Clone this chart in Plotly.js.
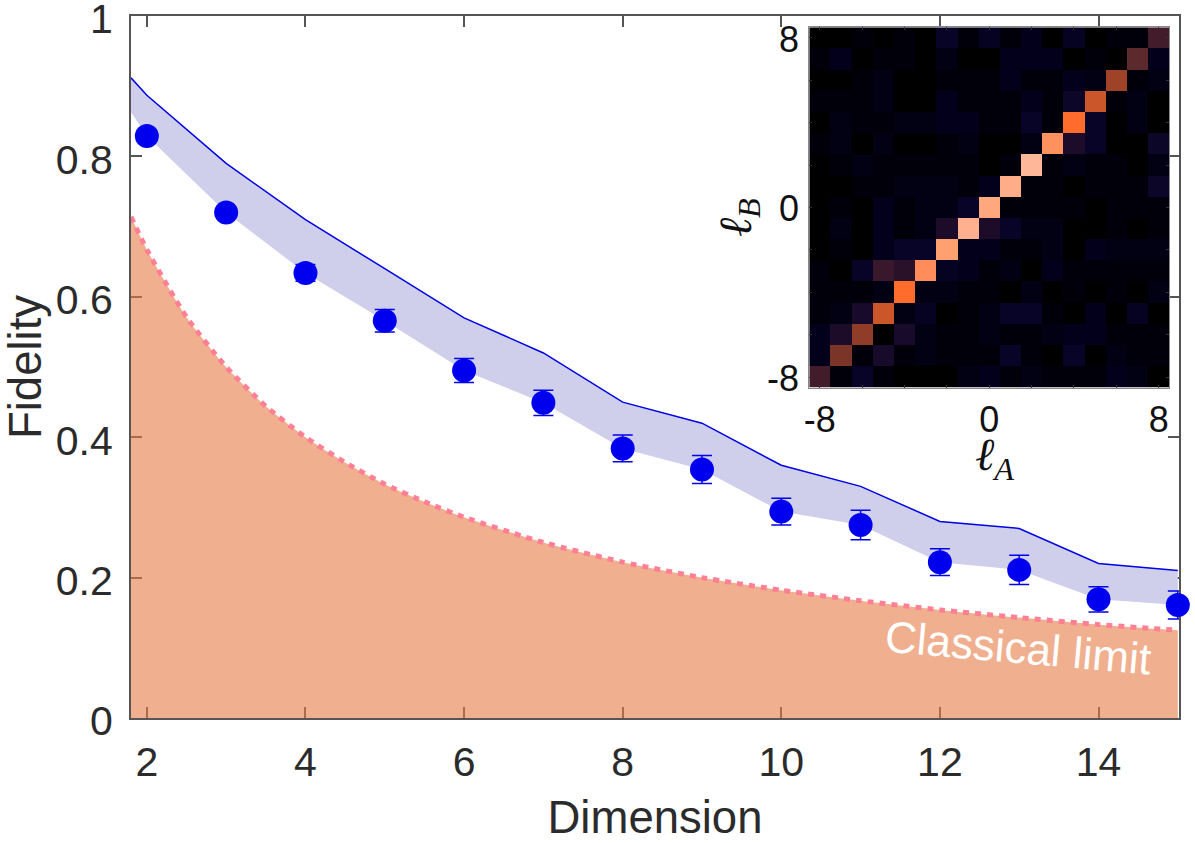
<!DOCTYPE html>
<html>
<head>
<meta charset="utf-8">
<script src="https://cdn.plot.ly/plotly-3.0.1.min.js"></script>
<style>html,body{margin:0;padding:0;background:#fff}</style>
</head>
<body>
<div id="chart" style="width:1195px;height:843px"></div>
<script>
"use strict";

const dimension = [2, 3, 4, 5, 6, 7, 8, 9, 10, 11, 12, 13, 14, 15];
const fidelity = [0.829, 0.72, 0.634, 0.566, 0.495, 0.449, 0.384, 0.354, 0.294, 0.275, 0.222, 0.211, 0.169, 0.161];
const fidelityErr = [0.004, 0.006, 0.012, 0.016, 0.017, 0.018, 0.019, 0.02, 0.019, 0.021, 0.019, 0.021, 0.018, 0.02];

const bandX = [1.8, 2, 3, 4, 5, 6, 7, 8, 9, 10, 11, 12, 13, 14, 15];
const bandUpper = [0.912, 0.887, 0.79, 0.71, 0.64, 0.57, 0.52, 0.45, 0.42, 0.36, 0.33, 0.28, 0.27, 0.22, 0.21];
const bandLower = [0.863, 0.829, 0.72, 0.634, 0.566, 0.495, 0.449, 0.384, 0.354, 0.294, 0.275, 0.222, 0.211, 0.169, 0.161];

const limitX = [1.8, 2, 2.5, 3, 3.5, 4, 4.5, 5, 5.5, 6, 7, 8, 9, 10, 11, 12, 13, 14, 15];
const limitY = [0.714, 0.667, 0.571, 0.5, 0.444, 0.4, 0.364, 0.333, 0.308, 0.286, 0.25, 0.222, 0.2, 0.182, 0.167, 0.154, 0.143, 0.133, 0.125];

const xTicks = [2, 4, 6, 8, 10, 12, 14];
const yTicks = [0, 0.2, 0.4, 0.6, 0.8, 1];
const yTickText = ["0", "0.2", "0.4", "0.6", "0.8", "1"];

const ell = [-8, -7, -6, -5, -4, -3, -2, -1, 0, 1, 2, 3, 4, 5, 6, 7, 8];
const insetTicks = [-8, 0, 8];
const insetTickText = ["-8", "0", "8"];
const insetMinorTicks = [-6, -4, -2, 2, 4, 6];

// rows run from lB = -8 up to lB = 8
const corr = [
    [.19, .01, .05, .01, .00, .00, .00, .02, .03, .01, .02, .01, .01, .01, .03, .02, .00],
    [.03, .35, .01, .09, .01, .02, .01, .01, .01, .05, .01, .00, .05, .00, .02, .01, .01],
    [.03, .10, .42, .00, .09, .02, .01, .01, .02, .01, .01, .02, .03, .03, .01, .01, .01],
    [.01, .02, .09, .60, .02, .04, .00, .01, .02, .05, .05, .01, .00, .03, .00, .04, .00],
    [.01, .01, .01, .02, .72, .02, .02, .01, .01, .00, .02, .00, .01, .00, .01, .00, .02],
    [.01, .00, .05, .17, .13, .80, .04, .03, .01, .02, .00, .03, .01, .01, .01, .01, .01],
    [.00, .01, .00, .03, .05, .05, .88, .03, .03, .01, .01, .02, .00, .03, .02, .02, .02],
    [.00, .02, .00, .03, .01, .02, .10, .97, .10, .05, .02, .02, .00, .00, .01, .00, .01],
    [.00, .01, .00, .03, .01, .02, .02, .05, .92, .01, .01, .01, .01, .00, .01, .01, .01],
    [.00, .00, .01, .01, .02, .02, .02, .01, .03, .95, .01, .01, .00, .01, .01, .01, .06],
    [.00, .01, .02, .01, .01, .01, .01, .01, .00, .01, 1.0, .01, .02, .01, .01, .00, .02],
    [.01, .02, .00, .02, .00, .00, .01, .02, .00, .00, .02, .82, .10, .05, .00, .00, .06],
    [.00, .02, .01, .01, .02, .02, .03, .03, .01, .01, .05, .01, .72, .05, .00, .02, .00],
    [.01, .01, .01, .02, .00, .00, .03, .01, .01, .01, .03, .01, .06, .60, .01, .02, .00],
    [.00, .00, .01, .02, .00, .00, .01, .01, .01, .03, .01, .01, .03, .02, .47, .01, .02],
    [.01, .03, .00, .01, .01, .00, .02, .00, .00, .03, .03, .03, .00, .01, .00, .28, .03],
    [.00, .00, .01, .00, .01, .00, .05, .01, .04, .01, .03, .00, .04, .00, .01, .01, .19]
];

const corrScale = [
    [0, "#000000"], [0.01, "#01000a"], [0.03, "#03001c"], [0.05, "#080428"], [0.1, "#1c0c2a"],
    [0.19, "#421c2b"], [0.28, "#5c2a2c"], [0.35, "#7a3428"], [0.47, "#9e4228"],
    [0.6, "#cb5629"], [0.72, "#ff6c2c"], [0.8, "#ff8c5a"], [0.88, "#ffa070"],
    [1, "#ffb799"]
];

const axisColor = "#555555";
const textColor = "#2b2b2b";
const insetText = "#111111";
const font = "Liberation Sans, Arial, sans-serif";
const mathFont = "Liberation Serif, serif";

const traces = [
    {
        x: limitX, y: limitY, mode: "lines", fill: "tozeroy",
        fillcolor: "rgba(230,123,68,0.6)",
        line: { color: "#ff7f94", width: 5, dash: "6px,6px", shape: "spline", smoothing: 0.6 },
        hoverinfo: "skip"
    },
    {
        x: bandX, y: bandLower, mode: "lines",
        line: { color: "rgba(0,0,0,0)", width: 0 },
        hoverinfo: "skip"
    },
    {
        x: bandX, y: bandUpper, mode: "lines", fill: "tonexty",
        fillcolor: "#cfcfeb",
        line: { color: "#0000e6", width: 1.5 },
        hoverinfo: "skip"
    },
    {
        x: dimension, y: fidelity, mode: "markers", cliponaxis: false,
        marker: { color: "#0000ee", size: 24 },
        error_y: { type: "data", array: fidelityErr, visible: true, color: "#0000ee", thickness: 1.5, width: 10 }
    },
    {
        x: ell, y: ell, z: corr, type: "heatmap", xaxis: "x2", yaxis: "y2",
        colorscale: corrScale, zmin: 0, zmax: 1, showscale: false
    }
];

const layout = {
    width: 1195,
    height: 843,
    margin: { l: 131, r: 16, t: 16, b: 125 },
    paper_bgcolor: "#ffffff",
    plot_bgcolor: "#ffffff",
    showlegend: false,
    font: { family: font, color: textColor, size: 41 },
    xaxis: {
        range: [1.8, 15.015],
        tickvals: xTicks,
        ticks: "inside", ticklen: 11, tickwidth: 1.5, tickcolor: axisColor,
        showline: true, linecolor: axisColor, linewidth: 2, mirror: "ticks",
        showgrid: false, zeroline: false, layer: "below traces",
        ticklabelstandoff: 7,
        tickfont: { size: 41, color: textColor, family: font },
        title: { text: "Dimension", font: { size: 45.5, color: textColor, family: font }, standoff: 20 }
    },
    yaxis: {
        range: [0, 1],
        tickvals: yTicks, ticktext: yTickText,
        ticks: "inside", ticklen: 11, tickwidth: 1.5, tickcolor: axisColor,
        showline: true, linecolor: axisColor, linewidth: 2, mirror: "ticks",
        showgrid: false, zeroline: false, layer: "below traces",
        ticklabelstandoff: 8, ticklabelshift: 3, ticklabeloverflow: "allow",
        tickfont: { size: 41, color: textColor, family: font },
        title: { text: "Fidelity", font: { size: 45.5, color: textColor, family: font }, standoff: 16 }
    },
    xaxis2: {
        domain: [0.6472, 0.9907], anchor: "y2", range: [-8.5, 8.5],
        tickvals: insetTicks, ticktext: insetTickText,
        ticks: "inside", ticklen: 3, tickwidth: 1, tickcolor: "#333333",
        minor: { tickvals: insetMinorTicks, ticks: "inside", ticklen: 3, tickwidth: 1, tickcolor: "#333333", showgrid: false },
        showline: true, linecolor: "#888888", linewidth: 1, mirror: "ticks",
        showgrid: false, zeroline: false,
        ticklabelstandoff: 0,
        tickfont: { size: 36, color: insetText, family: font }
    },
    yaxis2: {
        domain: [0.4705, 0.9839], anchor: "x2", range: [-8.5, 8.5],
        tickvals: insetTicks, ticktext: insetTickText,
        ticks: "inside", ticklen: 3, tickwidth: 1, tickcolor: "#333333",
        minor: { tickvals: insetMinorTicks, ticks: "inside", ticklen: 3, tickwidth: 1, tickcolor: "#333333", showgrid: false },
        showline: true, linecolor: "#888888", linewidth: 1, mirror: "ticks",
        showgrid: false, zeroline: false,
        ticklabelstandoff: 2, ticklabelshift: 1,
        tickfont: { size: 36, color: insetText, family: font }
    },
    annotations: [
        {
            text: "Classical limit", x: 12.98, y: 0.101, xref: "x", yref: "y",
            showarrow: false, textangle: 5,
            font: { size: 44, color: "#ffffff", family: font }
        },
        {
            text: "<i>ℓ<sub>A</sub></i>", x: 0.844, y: 0.37, xref: "paper", yref: "paper",
            showarrow: false,
            font: { size: 46, color: insetText, family: mathFont }
        },
        {
            text: "<i>ℓ<sub>B</sub></i>", x: 0.58, y: 0.744, xref: "paper", yref: "paper",
            showarrow: false, textangle: -90,
            font: { size: 46, color: insetText, family: mathFont }
        }
    ]
};

Plotly.newPlot("chart", traces, layout, { displayModeBar: false });
</script>
</body>
</html>
